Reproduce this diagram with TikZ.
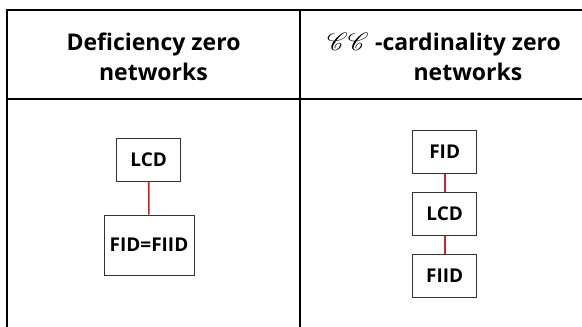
\documentclass[tikz,border=0pt]{standalone}
\usepackage{fontspec}
\setmainfont{Open Sans}
\usepackage{mathrsfs}
\usepackage{xcolor}
\usepackage{tikz}
\usetikzlibrary{positioning}

\definecolor{linkred}{RGB}{208,32,42}

\begin{document}
\begin{tikzpicture}[x=1pt,y=-1pt]
        \tikzstyle{every node}=[font=\fontsize{23}{28}\selectfont\bfseries,inner sep=0pt]
        \tikzstyle{grid}=[line width=2pt,black]
        \tikzstyle{head}=[anchor=base]
        \tikzstyle{box}=[draw=black!80,line width=1pt,inner sep=0pt,
          minimum width=64pt,minimum height=43pt,font=\fontsize{19}{22}\selectfont\bfseries]
        \tikzstyle{link}=[linkred,line width=1.6pt]
        \useasboundingbox (0,0) rectangle (582,327);
        % table
        \draw[grid] (7,340) -- (7,10) -- (600,10);
        \draw[grid] (7,99) -- (600,99);
        \draw[grid] (300,10) -- (300,340);
        % headers
        \node[head] (defone) at (153.5,50) {Deficiency zero};
        \node[head] (deftwo) at (153.5,80) {networks};
        \node[head] (ccone) at (468,50) {-cardinality zero};
        \node[head] (cctwo) at (468,80) {networks};
        \node[anchor=base east] (ccsym) at ([xshift=-6pt]ccone.base west) {$\mathscr{C}\mathscr{C}$};
        % deficiency zero
        \node[box] (lcdl) at (148.7,159.5) {LCD};
        \node[box,minimum width=90pt,minimum height=60pt] (fidl) at (149,245) {FID=FIID};
        \draw[link] (lcdl) -- (fidl);
        % CC-cardinality zero
        \node[box] (fidr) at (444.7,152) {FID};
        \node[box] (lcdr) at (444.7,214) {LCD};
        \node[box] (fiidr) at (444.7,275.5) {FIID};
        \draw[link] (fidr) -- (lcdr);
        \draw[link] (lcdr) -- (fiidr);
        \tikzstyle{every node}=[]
      \end{tikzpicture}
\end{document}
